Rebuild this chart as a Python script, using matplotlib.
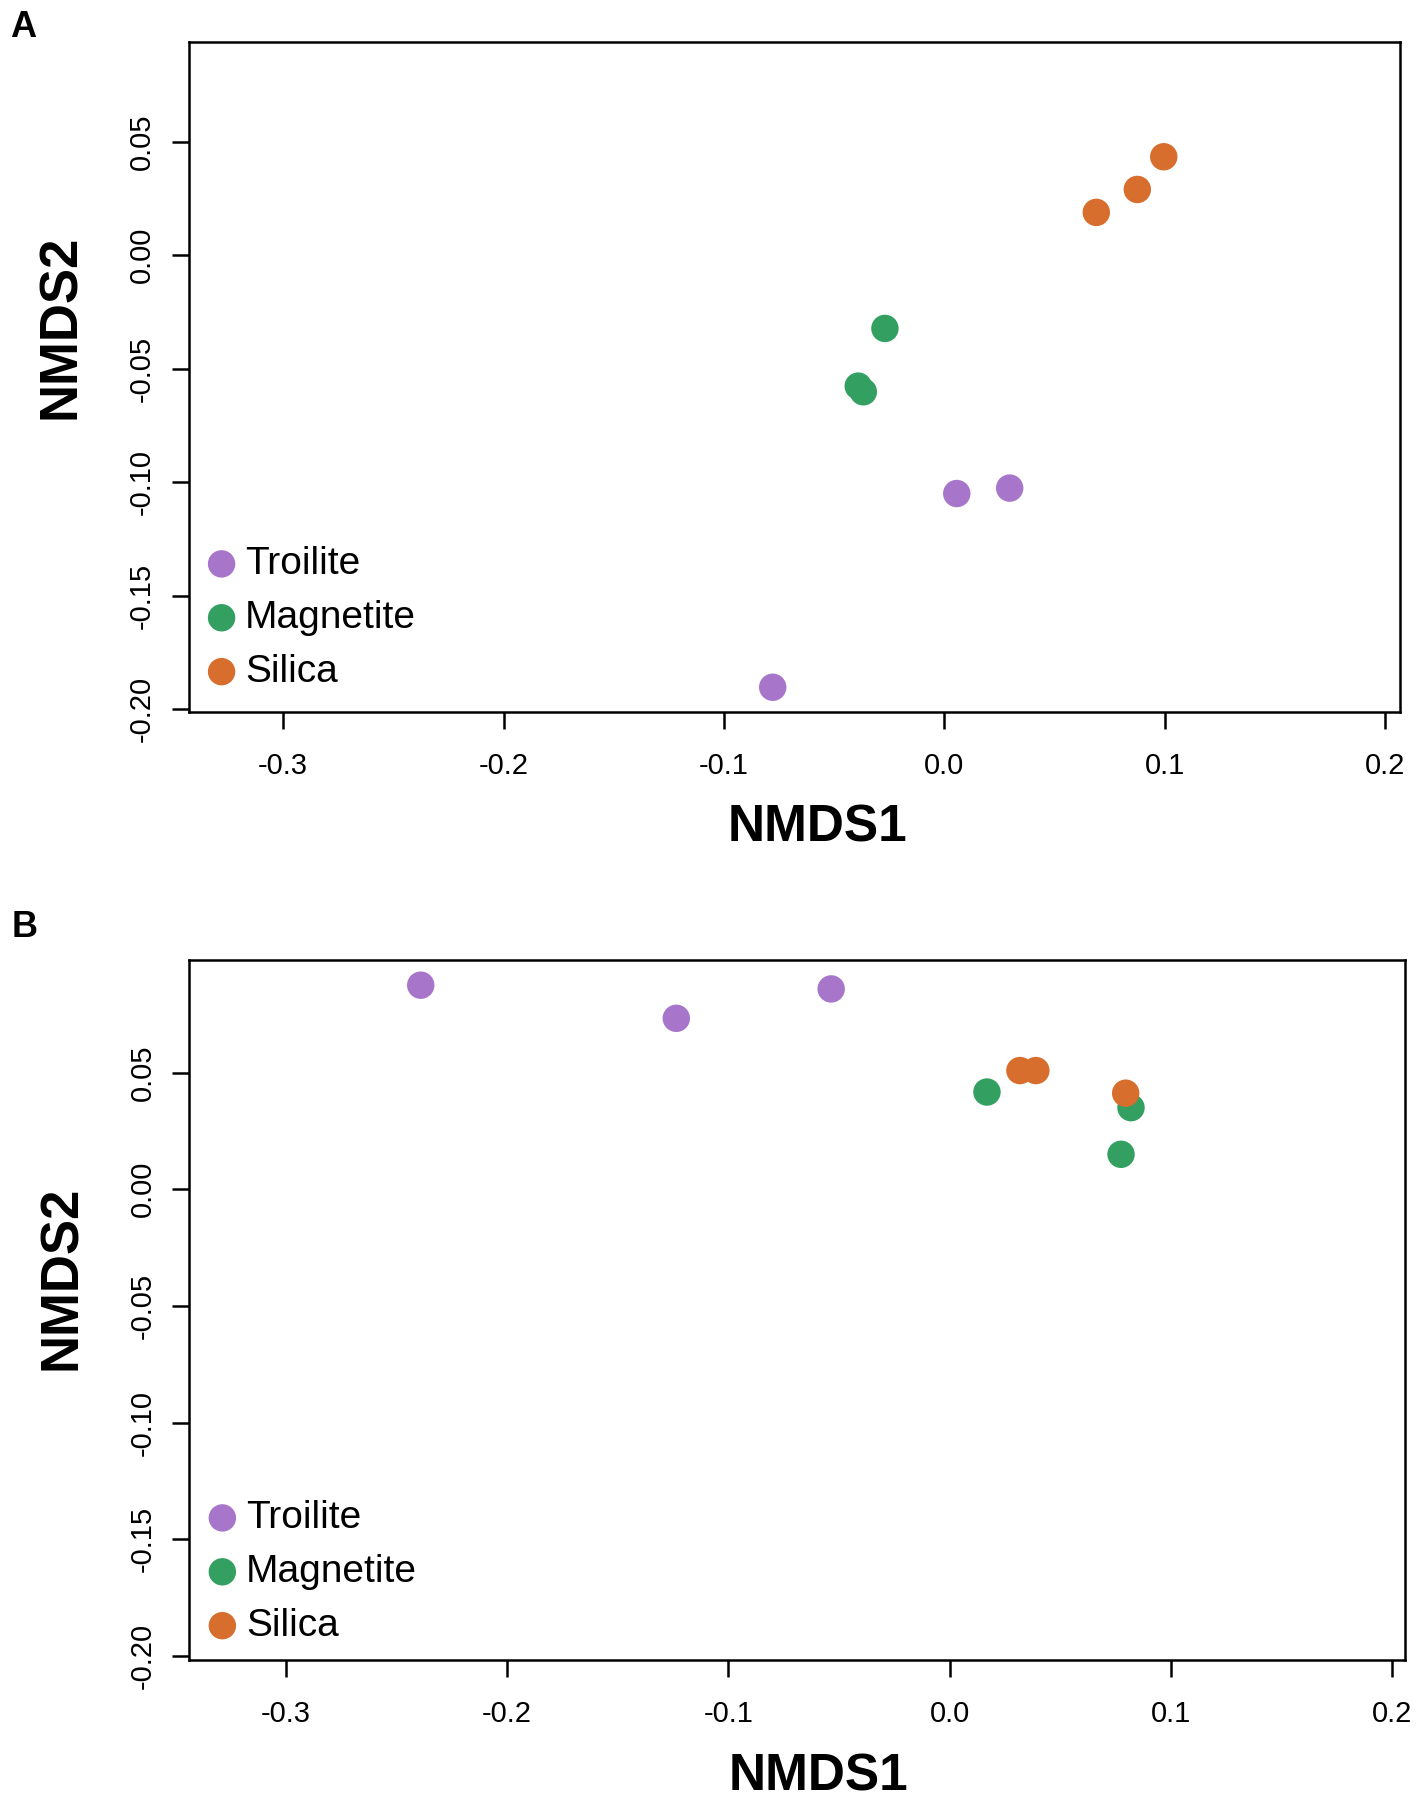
import matplotlib
matplotlib.use("Agg")
import matplotlib.pyplot as plt

plt.rcParams['font.family'] = ['Liberation Sans', 'DejaVu Sans']
plt.rcParams['axes.unicode_minus'] = False

groups = ["Troilite", "Magnetite", "Silica"]
colors = {"Troilite": "#A776CB", "Magnetite": "#33A062", "Silica": "#D76E2D"}

# Panel A
a_troilite_x = [0.0056, 0.0296, -0.0779]
a_troilite_y = [-0.1050, -0.1026, -0.1903]
a_magnetite_x = [-0.0270, -0.0391, -0.0368]
a_magnetite_y = [-0.0323, -0.0577, -0.0602]
a_silica_x = [0.0995, 0.0875, 0.0689]
a_silica_y = [0.0433, 0.0289, 0.0188]

# Panel B
b_troilite_x = [-0.2390, -0.1235, -0.0535]
b_troilite_y = [0.0875, 0.0733, 0.0859]
b_magnetite_x = [0.0169, 0.0820, 0.0775]
b_magnetite_y = [0.0417, 0.0350, 0.0150]
b_silica_x = [0.0318, 0.0390, 0.0796]
b_silica_y = [0.0509, 0.0509, 0.0412]

x_ticks = [-0.3, -0.2, -0.1, 0.0, 0.1, 0.2]
x_ticklabels = ["-0.3", "-0.2", "-0.1", "0.0", "0.1", "0.2"]
y_ticks = [-0.20, -0.15, -0.10, -0.05, 0.00, 0.05]
y_ticklabels = ["-0.20", "-0.15", "-0.10", "-0.05", "0.00", "0.05"]

W, H = 1417, 1804
fig = plt.figure(figsize=(W / 100, H / 100), dpi=100)

def px_axes(left, right, top, bottom):
    return [left / W, 1 - bottom / H, (right - left) / W, (bottom - top) / H]

axA = fig.add_axes(px_axes(188.6, 1399.6, 42.3, 712))
axB = fig.add_axes(px_axes(189.3, 1404.7, 960, 1660))

panels = [
    (axA, {"Troilite": (a_troilite_x, a_troilite_y),
           "Magnetite": (a_magnetite_x, a_magnetite_y),
           "Silica": (a_silica_x, a_silica_y)},
     (-0.3429, 0.2065), (-0.2012, 0.0937), (0.519, -0.173), (-0.1054, 0.575), 0.1404),
    (axB, {"Troilite": (b_troilite_x, b_troilite_y),
           "Magnetite": (b_magnetite_x, b_magnetite_y),
           "Silica": (b_silica_x, b_silica_y)},
     (-0.3436, 0.2057), (-0.2018, 0.0983), (0.518, -0.167), (-0.1051, 0.546), 0.1257),
]

for ax, data, xl, yl, xlab, ylab, legy in panels:
    handles = []
    for g in groups:
        xs, ys = data[g]
        h = ax.scatter(xs, ys, s=390, color=colors[g], edgecolors='none',
                       label=g, zorder=3)
        handles.append(h)
    ax.set_xlim(*xl)
    ax.set_ylim(*yl)
    ax.set_xticks(x_ticks)
    ax.set_xticklabels(x_ticklabels)
    ax.set_yticks(y_ticks)
    ax.set_yticklabels(y_ticklabels)
    for sp in ax.spines.values():
        sp.set_linewidth(1.8)
        sp.set_color('black')
    ax.tick_params(axis='both', direction='out', length=12.5, width=1.8,
                   labelsize=21, colors='black')
    ax.tick_params(axis='x', pad=16)
    ax.tick_params(axis='y', pad=11, labelrotation=90)
    for lab in ax.get_yticklabels():
        lab.set_va('center')
    ax.set_xlabel("NMDS1", fontsize=37, fontweight='bold', va='center')
    ax.xaxis.set_label_coords(*xlab)
    ax.set_ylabel("NMDS2", fontsize=38, fontweight='bold', va='center')
    ax.yaxis.set_label_coords(*ylab)
    ax.legend(handles=handles, loc='center left', bbox_to_anchor=(0.0168, legy),
              frameon=False, fontsize=28, borderpad=0, borderaxespad=0,
              handlelength=0.65, handletextpad=0.28, labelspacing=0.46,
              scatterpoints=1)

fig.text(10 / W, 1 - 37 / H, "A", fontsize=26, fontweight='bold', ha='left', va='baseline')
fig.text(12 / W, 1 - 937 / H, "B", fontsize=26, fontweight='bold', ha='left', va='baseline')

fig.savefig("out.png", dpi=100, facecolor='white')
